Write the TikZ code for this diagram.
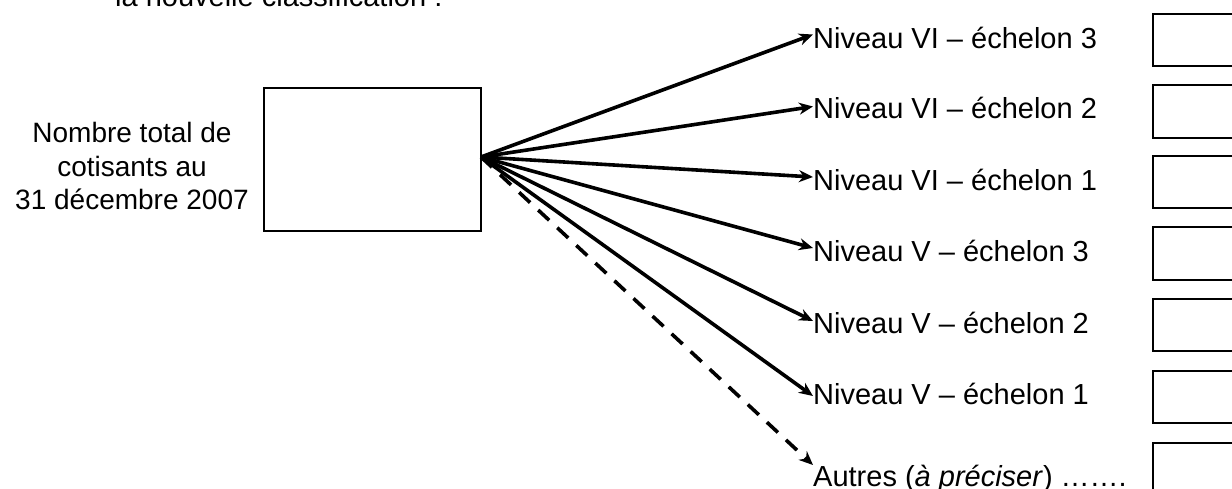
\documentclass[tikz,border=0pt]{standalone}
\usepackage{fontspec}
\setmainfont{Liberation Sans}
\usetikzlibrary{arrows.meta}
\begin{document}
\begin{tikzpicture}[x=1pt,y=-1pt,
  lbl/.style={anchor=base west,inner sep=0pt,font=\fontsize{29}{34}\selectfont},
  valbox/.style={draw,line width=2.2pt,anchor=north west,inner sep=0pt,minimum width=120pt,minimum height=52.5pt},
  arr/.style={line width=3.6pt,-{Stealth[length=14pt,width=12pt]}},
  darr/.style={arr,dash pattern=on 15pt off 11pt}]
\useasboundingbox (0,0) rectangle (1232,488);
\clip (0,0) rectangle (1232,488);
\fill[white] (0,0) rectangle (1232,488);

\node[lbl] (title) at (115,6) {la nouvelle classification :};

\node[align=center,inner sep=0pt,font=\fontsize{28}{33.5}\selectfont] (total) at (132,166)
  {Nombre total de\\cotisants au\\31 décembre 2007};
\node[draw,line width=2.2pt,anchor=north west,inner sep=0pt,minimum width=217pt,minimum height=143pt] (main) at (263,87) {};
\coordinate (o) at (481,157);

\node[lbl] (l1) at (813,48.5) {Niveau VI – échelon 3};
\node[lbl] (l2) at (813,118.5) {Niveau VI – échelon 2};
\node[lbl] (l3) at (813,190) {Niveau VI – échelon 1};
\node[lbl] (l4) at (813,261) {Niveau V – échelon 3};
\node[lbl] (l5) at (813,333) {Niveau V – échelon 2};
\node[lbl] (l6) at (813,404) {Niveau V – échelon 1};
\node[lbl] (l7) at (813,486) {Autres (\textit{à préciser}) …….};

\node[valbox] (b1) at (1152,12.5) {};
\node[valbox] (b2) at (1152,84) {};
\node[valbox] (b3) at (1152,154.5) {};
\node[valbox] (b4) at (1152,226) {};
\node[valbox] (b5) at (1152,297.5) {};
\node[valbox] (b6) at (1152,369.5) {};
\node[valbox] (b7) at (1152,442) {};

\draw[arr] (o) -- ([yshift=14pt]l1.base west);
\draw[arr] (o) -- ([yshift=12pt]l2.base west);
\draw[arr] (o) -- ([yshift=13pt]l3.base west);
\draw[arr] (o) -- ([yshift=13pt]l4.base west);
\draw[arr] (o) -- ([yshift=12pt]l5.base west);
\draw[arr] (o) -- ([yshift=8pt]l6.base west);
\draw[darr] (o) -- ([yshift=21pt]l7.base west);
\end{tikzpicture}
\end{document}
